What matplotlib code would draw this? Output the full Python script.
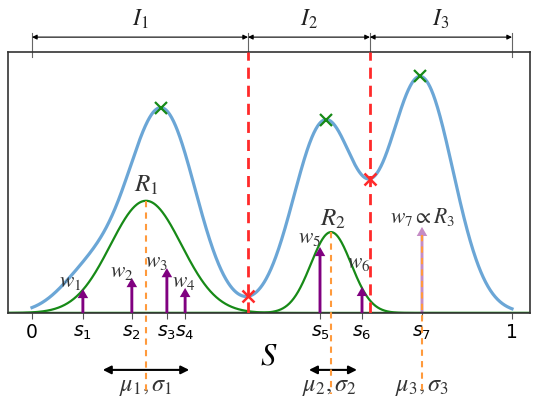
import matplotlib
matplotlib.use("Agg")
import matplotlib.pyplot as plt
import numpy as np

# mixture components of the blue density (mean, sigma, amplitude)
mix_mu = [0.12, 0.27, 0.61, 0.81]
mix_sigma = [0.06, 0.07, 0.065, 0.067]
mix_amp = [0.15, 0.78, 0.73, 0.90]

# interval boundaries (red dashed lines)
bounds = [0.0, 0.45, 0.704, 1.0]
interval_labels = ["$I_1$", "$I_2$", "$I_3$"]

# green regions R1, R2
reg_mu = [0.2375, 0.623]
reg_sigma = [0.074, 0.042]
reg_amp = [0.43, 0.31]
reg_labels = ["$R_1$", "$R_2$"]
mu3 = 0.8125

# samples and weights
s_pos = [0.106, 0.208, 0.281, 0.319, 0.60, 0.6875, 0.8125]
s_w = [0.092, 0.134, 0.172, 0.096, 0.253, 0.10, 0.33]
tick_pos = [0.0] + s_pos + [1.0]
tick_labels = ["0", "$s_1$", "$s_2$", "$s_3$", "$s_4$", "$s_5$", "$s_6$", "$s_7$", "1"]
w_labels = ["$w_1$", "$w_2$", "$w_3$", "$w_4$", "$w_5$", "$w_6$", r"$w_7 \propto R_3$"]
w_label_xy = [(0.079, 0.119), (0.1875, 0.157), (0.26, 0.195), (0.317, 0.119),
              (0.577, 0.287), (0.681, 0.19), (0.815, 0.368)]

# spreads shown by double arrows under the axis
spread_mu = [0.2375, 0.627]
spread_half = [0.09, 0.05]
mu_labels = [r"$\mu_1, \sigma_1$", r"$\mu_2, \sigma_2$", r"$\mu_3, \sigma_3$"]
mu_label_x = [0.2375, 0.62, 0.8125]

blue = "#6ba6d6"
green = "#178a17"
orange = "#ff9a3c"
red = "#ff2a2a"
purple = "#800080"
txt = "#333333"


def gauss(x, m, s, a):
    return a * np.exp(-0.5 * ((x - m) / s) ** 2)


x = np.linspace(0, 1, 1001)
density = sum(gauss(x, m, s, a) for m, s, a in zip(mix_mu, mix_sigma, mix_amp))
xg = np.linspace(-0.05, 1.0375, 1201)

fig = plt.figure(figsize=(5.44, 4.03), dpi=100)
ax = fig.add_axes([8 / 544, 90 / 403, 522 / 544, 261 / 403])
ax.set_xlim(-0.05, 1.0375)
ax.set_ylim(0, 1)

ax.plot(x, density, color=blue, lw=2.3, zorder=3)

# green regions
for m, s, a in zip(reg_mu, reg_sigma, reg_amp):
    ax.plot(xg, gauss(xg, m, s, a), color=green, lw=1.6, zorder=2)
ax.plot(xg, np.zeros_like(xg), color=green, lw=1.6, zorder=2)

# maxima (green) and boundary minima (red)
for lo, hi in zip(bounds[:-1], bounds[1:]):
    sel = (x >= lo) & (x <= hi)
    i = np.argmax(density[sel])
    ax.plot(x[sel][i], density[sel][i], "x", color=green, ms=8, mew=1.6, zorder=5)
for b in bounds[1:-1]:
    yb = sum(gauss(b, m, s, a) for m, s, a in zip(mix_mu, mix_sigma, mix_amp))
    ax.plot(b, yb, "x", color=red, ms=9, mew=1.8, zorder=5)
    ax.plot([b, b], [0, 1], color=red, ls=(0, (4, 2.5)), lw=2, zorder=4)

# orange mean lines, going below the axis
for m, s, a in zip(reg_mu, reg_sigma, reg_amp):
    ax.plot([m, m], [a, -0.31], color=orange, ls=(0, (3, 2.5)), lw=1.5,
            clip_on=False, zorder=6)

# sample arrows
for i, (s, w) in enumerate(zip(s_pos, s_w)):
    alpha = 0.45 if i == 6 else 1.0
    ax.arrow(s, 0, 0, w, width=0.006, head_width=0.022, head_length=0.035,
             length_includes_head=True, color=purple, alpha=alpha, lw=0, zorder=7)
ax.plot([mu3, mu3], [s_w[6] - 0.03, -0.31], color=orange, ls=(0, (3, 2.5)), lw=1.5,
        clip_on=False, zorder=8)

for lab, (lx, ly) in zip(w_labels, w_label_xy):
    ax.text(lx, ly, lab, ha="center", va="center", fontsize=15.5,
            math_fontfamily="stix", color=txt, zorder=9)
ax.text(reg_mu[0], 0.49, reg_labels[0], ha="center", va="center", fontsize=18,
        math_fontfamily="stix", color=txt)
ax.text(0.627, 0.36, reg_labels[1], ha="center", va="center", fontsize=18,
        math_fontfamily="stix", color=txt)

# double arrows and mean labels under the axis
for m, h in zip(spread_mu, spread_half):
    ax.annotate("", xy=(m - h, -0.218), xytext=(m + h, -0.218),
                arrowprops=dict(arrowstyle="<|-|>", color="black", lw=1.5,
                                mutation_scale=12, shrinkA=0, shrinkB=0),
                annotation_clip=False)
for lab, lx in zip(mu_labels, mu_label_x):
    ax.text(lx, -0.28, lab, ha="center", va="center", fontsize=17.5,
            math_fontfamily="stix", color=txt)

# interval brackets above the axis
for lo, hi, lab in zip(bounds[:-1], bounds[1:], interval_labels):
    ax.annotate("", xy=(lo, 1.057), xytext=(hi, 1.057),
                arrowprops=dict(arrowstyle="<|-|>", color="black", lw=0.8,
                                mutation_scale=7, shrinkA=0, shrinkB=0),
                annotation_clip=False)
    ax.text((lo + hi) / 2, 1.126, lab, ha="center", va="center", fontsize=17,
            math_fontfamily="stix", color="#222222")
for b in bounds:
    ax.plot([b, b], [0.98, 1.073], color="#666666", lw=0.8, clip_on=False, zorder=1)

ax.set_xticks(tick_pos)
ax.set_xticklabels(tick_labels, fontsize=13.5)
ax.set_yticks([])
ax.tick_params(axis="x", length=4, color="#555555", pad=3)
ax.set_xlabel("$S$", fontsize=22, math_fontfamily="stix", labelpad=0)
for sp in ax.spines.values():
    sp.set_color("#333333")
    sp.set_linewidth(1.2)

fig.savefig("out.png", dpi=100)
